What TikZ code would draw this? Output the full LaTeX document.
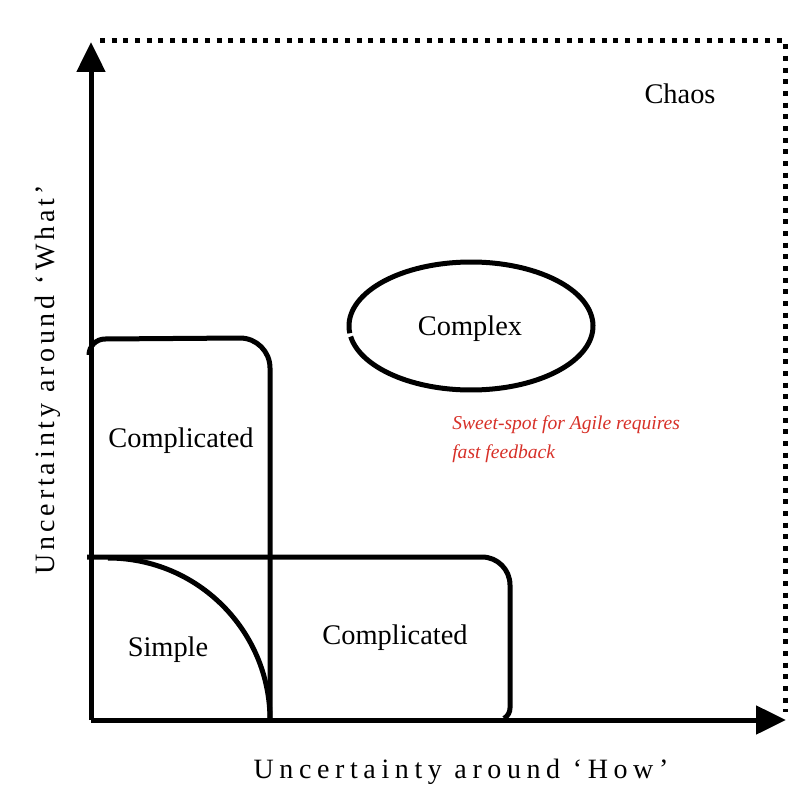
\documentclass[tikz,border=0pt]{standalone}
\usepackage{fontspec}
\setmainfont{Liberation Serif}
\usetikzlibrary{arrows.meta}
\definecolor{agilered}{RGB}{215,48,40}
\begin{document}
\begin{tikzpicture}[x=0.75pt,y=-0.75pt,
  thick line/.style={line width=3.75pt},
  dotline/.style={line width=3.75pt, dash pattern=on 3.75pt off 5pt},
  axisarrow/.style={line width=3.75pt,-{Triangle[length=22.5pt,width=21pt]}},
  lbl/.style={font=\fontsize{21.3}{24}\selectfont, inner sep=0pt},
  axislbl/.style={font=\fontsize{21}{24}\selectfont\addfontfeature{LetterSpace=20}, inner sep=0pt},
  vaxislbl/.style={font=\fontsize{21}{24}\selectfont\addfontfeature{LetterSpace=14}, inner sep=0pt},
  redlbl/.style={font=\fontsize{14.7}{21.7}\selectfont\itshape, text=agilered, align=left, inner sep=0pt}]
\useasboundingbox (0,0) rectangle (799,799);
% axes
\coordinate (O) at (91,720);
\coordinate (ytip) at (91,42);
\coordinate (xtip) at (786,720);
\coordinate (xstart) at (508,720);
\coordinate (tl) at (100,41);
\coordinate (tr) at (785,41);
\coordinate (br) at (785,712);
\draw[dotline] (tl) -- (tr) -- (br);
\draw[axisarrow] (O) -- (ytip);
\draw[thick line] (O) -- (xstart);
\draw[axisarrow] (xstart) -- (xtip);
% vertical complicated box
\draw[thick line] (89,355) arc[start angle=180,end angle=270,radius=16] -- (240,338)
  arc[start angle=270,end angle=360,radius=30] -- (270,720);
% horizontal complicated box
\draw[thick line] (87,557) -- (482,557) arc[start angle=270,end angle=360,radius=28]
  -- (510,708) arc[start angle=0,end angle=60,radius=12];
% simple quarter circle
\draw[thick line] (108,558) arc[start angle=270,end angle=360,x radius=162,y radius=162];
% complex ellipse
\draw[thick line] (471,326) ++(173.5:122 and 64) arc[start angle=173.5,end angle=530.5,x radius=122,y radius=64];
% labels
\node[lbl] (chaos) at (680,94) {Chaos};
\node[lbl] (complex) at (470,329) {Complex};
\node[lbl] (compv) at (181,441) {Complicated};
\node[lbl] (simple) at (168,650) {Simple};
\node[lbl] (comph) at (395,638) {Complicated};
\node[redlbl, anchor=north west] (sweet) at (452,415) {Sweet-spot for Agile requires\\fast feedback};
\node[axislbl] (xlabel) at (461,772) {Uncertainty around ‘How’};
\node[vaxislbl, rotate=90] (ylabel) at (48,380) {Uncertainty around ‘What’};
\end{tikzpicture}
\end{document}
